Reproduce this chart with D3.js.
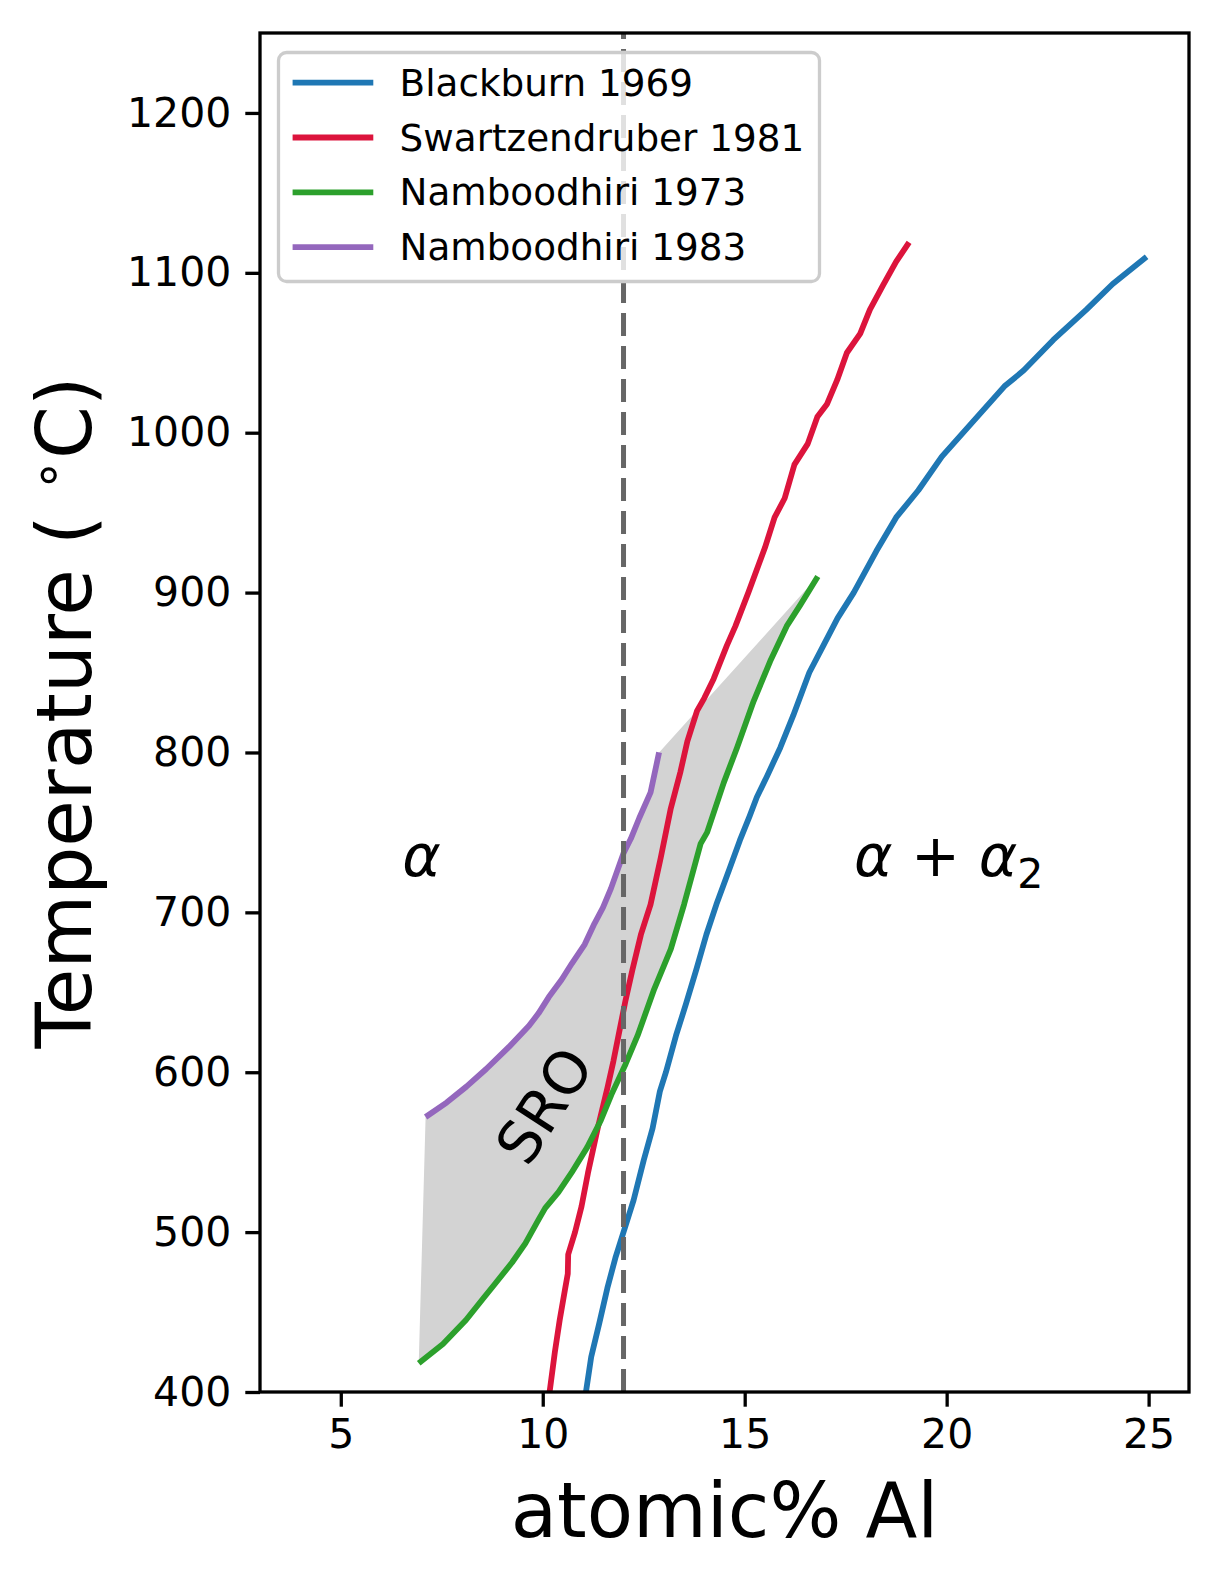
<!DOCTYPE html>
<html>
<head>
<meta charset="utf-8">
<script src="https://cdn.jsdelivr.net/npm/d3@7"></script>
<style>
  html, body { margin: 0; padding: 0; background: #fff; overflow: hidden; }
  svg { display: block; font-family: 'DejaVu Sans', sans-serif; }
</style>
</head>
<body>
<svg id="chart" width="1222" height="1581"></svg>
<script>
// atomic% Al vs temperature
const blackburn1969 = [
  [11.07, 400], [11.2, 422], [11.4, 443], [11.6, 465], [11.8, 484], [12.0, 500],
  [12.25, 520], [12.5, 545], [12.72, 565], [12.9, 588], [13.05, 600], [13.3, 623],
  [13.55, 643], [13.8, 664], [14.05, 686], [14.3, 705], [14.62, 727], [14.88, 745],
  [15.12, 760], [15.3, 772], [15.55, 785], [15.88, 803], [16.2, 823], [16.6, 850],
  [16.95, 867], [17.3, 884], [17.7, 900], [18.26, 926], [18.75, 947], [19.3, 964],
  [19.88, 985], [20.69, 1008], [21.43, 1029], [21.91, 1039], [22.64, 1058],
  [23.46, 1077], [24.11, 1093], [24.95, 1110],
]

const swartzendruber1981 = [
  [10.17, 400], [10.3, 425], [10.42, 445], [10.55, 464], [10.62, 474], [10.63, 486],
  [10.8, 500], [10.96, 516], [11.12, 537], [11.37, 566], [11.6, 590], [11.75, 607],
  [11.9, 626], [12.05, 645], [12.22, 664], [12.43, 686], [12.67, 705], [12.92, 734],
  [13.17, 765], [13.41, 788], [13.58, 807], [13.82, 826], [14.0, 834], [14.23, 846],
  [14.56, 867], [14.77, 879], [15.09, 900], [15.5, 928], [15.74, 947], [15.99, 959],
  [16.23, 980], [16.56, 993], [16.8, 1010], [17.04, 1018], [17.29, 1033],
  [17.53, 1050], [17.86, 1062], [18.1, 1077], [18.42, 1092], [18.75, 1107], [19.07, 1119],
]

const namboodhiri1973 = [
  [6.93, 418], [7.53, 430], [8.1, 445], [8.51, 458], [8.83, 468], [9.24, 481],
  [9.57, 493], [9.9, 508], [10.06, 515], [10.39, 525], [10.71, 537], [11.1, 553],
  [11.44, 570], [11.7, 586], [12.05, 605], [12.35, 623], [12.76, 652], [13.17, 677],
  [13.5, 705], [13.91, 743], [14.07, 750], [14.48, 781], [14.81, 803], [15.22, 832],
  [15.63, 857], [16.04, 879], [16.37, 892], [16.81, 910],
]

const namboodhiri1983 = [
  [7.1, 572], [7.62, 581], [8.11, 591], [8.6, 602], [9.17, 616], [9.66, 629],
  [9.9, 637], [10.15, 647], [10.47, 658], [10.72, 668], [11.04, 680], [11.28, 693],
  [11.49, 703], [11.69, 715], [12.0, 737], [12.18, 746], [12.39, 759], [12.67, 775],
  [12.88, 800],
]

const seriesNames = ['Blackburn 1969', 'Swartzendruber 1981', 'Namboodhiri 1973', 'Namboodhiri 1983']
const seriesColors = ['#1f77b4', '#dc143c', '#2ca02c', '#9467bd']
const seriesData = [blackburn1969, swartzendruber1981, namboodhiri1973, namboodhiri1983]

const xTicks = [5, 10, 15, 20, 25]
const yTicks = [400, 500, 600, 700, 800, 900, 1000, 1100, 1200]
const xDomain = [3, 26]
const yDomain = [400, 1250]
const dashedAt = 12

// phase labels: [x, T]
const alphaLabel = [7.0, 723]
const alphaAlpha2Label = [20.05, 723]
const sroLabel = [10.05, 579]

const margin = { left: 260, right: 1189, top: 33, bottom: 1392 }

const svg = d3.select('#chart')

const x = d3.scaleLinear()
    .domain(xDomain)
    .range([margin.left, margin.right])

const y = d3.scaleLinear()
    .domain(yDomain)
    .range([margin.bottom, margin.top])

svg.append('defs').append('clipPath')
    .attr('id', 'plot-clip')
  .append('rect')
    .attr('x', margin.left)
    .attr('y', margin.top)
    .attr('width', margin.right - margin.left)
    .attr('height', margin.bottom - margin.top)

const plot = svg.append('g')
    .attr('clip-path', 'url(#plot-clip)')

// SRO band: purple curve, then green curve back down
const band = namboodhiri1983.concat(namboodhiri1973.slice().reverse())

plot.append('path')
    .datum(band)
    .attr('fill', '#d3d3d3')
    .attr('stroke', 'none')
    .attr('d', d3.line().x(d => x(d[0])).y(d => y(d[1])).curve(d3.curveLinearClosed))

const line = d3.line()
    .x(d => x(d[0]))
    .y(d => y(d[1]))

plot.selectAll('path.series')
    .data(seriesData)
    .join('path')
    .attr('class', 'series')
    .attr('fill', 'none')
    .attr('stroke', (d, i) => seriesColors[i])
    .attr('stroke-width', 5.8)
    .attr('stroke-linejoin', 'round')
    .attr('d', line)

plot.append('line')
    .attr('x1', x(dashedAt))
    .attr('x2', x(dashedAt))
    .attr('y1', y(yDomain[0]))
    .attr('y2', y(yDomain[1]))
    .attr('stroke', '#666666')
    .attr('stroke-width', 5)
    .attr('stroke-dasharray', '23 10')

// phase labels
const labels = svg.append('g')
    .attr('font-size', 58.5)
    .attr('fill', '#000')

labels.append('text')
    .attr('x', x(alphaLabel[0]))
    .attr('y', y(alphaLabel[1]))
    .attr('text-anchor', 'middle')
    .attr('font-style', 'italic')
    .text('α')

const aa = labels.append('text')
    .attr('x', x(alphaAlpha2Label[0]))
    .attr('y', y(alphaAlpha2Label[1]))
    .attr('text-anchor', 'middle')

aa.append('tspan').attr('font-style', 'italic').text('α')
aa.append('tspan').text(' + ')
aa.append('tspan').attr('font-style', 'italic').text('α')
aa.append('tspan').attr('font-size', 41).attr('dy', 12).text('2')

labels.append('text')
    .attr('transform', `translate(${x(sroLabel[0])},${y(sroLabel[1])}) rotate(-57)`)
    .attr('text-anchor', 'middle')
    .attr('dominant-baseline', 'central')
    .text('SRO')

// axes
const xAxis = svg.append('g')
    .attr('transform', `translate(0,${margin.bottom})`)
    .call(d3.axisBottom(x).tickValues(xTicks).tickFormat(d3.format('d')).tickSize(14.7).tickPadding(12))

const yAxis = svg.append('g')
    .attr('transform', `translate(${margin.left},0)`)
    .call(d3.axisLeft(y).tickValues(yTicks).tickFormat(d3.format('d')).tickSize(14.7).tickPadding(14))

for (const axis of [xAxis, yAxis]) {
  axis.select('.domain').remove()
  axis.selectAll('.tick line')
      .attr('stroke', '#000')
      .attr('stroke-width', 3.3)
  axis.selectAll('.tick text')
      .attr('font-family', 'DejaVu Sans')
      .attr('font-size', 41)
      .attr('fill', '#000')
}

svg.append('rect')
    .attr('x', margin.left)
    .attr('y', margin.top)
    .attr('width', margin.right - margin.left)
    .attr('height', margin.bottom - margin.top)
    .attr('fill', 'none')
    .attr('stroke', '#000')
    .attr('stroke-width', 3.3)

// axis titles
svg.append('text')
    .attr('x', (margin.left + margin.right) / 2)
    .attr('y', 1537)
    .attr('text-anchor', 'middle')
    .attr('font-size', 75.7)
    .text('atomic% Al')

const yTitle = svg.append('text')
    .attr('transform', `translate(91,${(margin.top + margin.bottom) / 2}) rotate(-90)`)
    .attr('text-anchor', 'middle')
    .attr('font-size', 75.7)

yTitle.append('tspan').text('Temperature ( ')
yTitle.append('tspan').attr('font-size', 52).attr('dy', -26).text('∘')
yTitle.append('tspan').attr('dy', 26).text('C)')

// legend
const legend = svg.append('g')

legend.append('rect')
    .attr('x', 278.5)
    .attr('y', 52.5)
    .attr('width', 541)
    .attr('height', 229)
    .attr('rx', 8)
    .attr('fill', '#fff')
    .attr('fill-opacity', 0.8)
    .attr('stroke', '#cccccc')
    .attr('stroke-width', 3.3)

const rows = legend.selectAll('g.row')
    .data(seriesNames)
    .join('g')
    .attr('class', 'row')
    .attr('transform', (d, i) => `translate(0,${82.7 + i * 54.8})`)

rows.append('line')
    .attr('x1', 292.6)
    .attr('x2', 373.3)
    .attr('stroke', (d, i) => seriesColors[i])
    .attr('stroke-width', 5.8)

rows.append('text')
    .attr('x', 399.6)
    .attr('y', 13)
    .attr('font-size', 37.3)
    .text(d => d)
</script>
</body>
</html>
